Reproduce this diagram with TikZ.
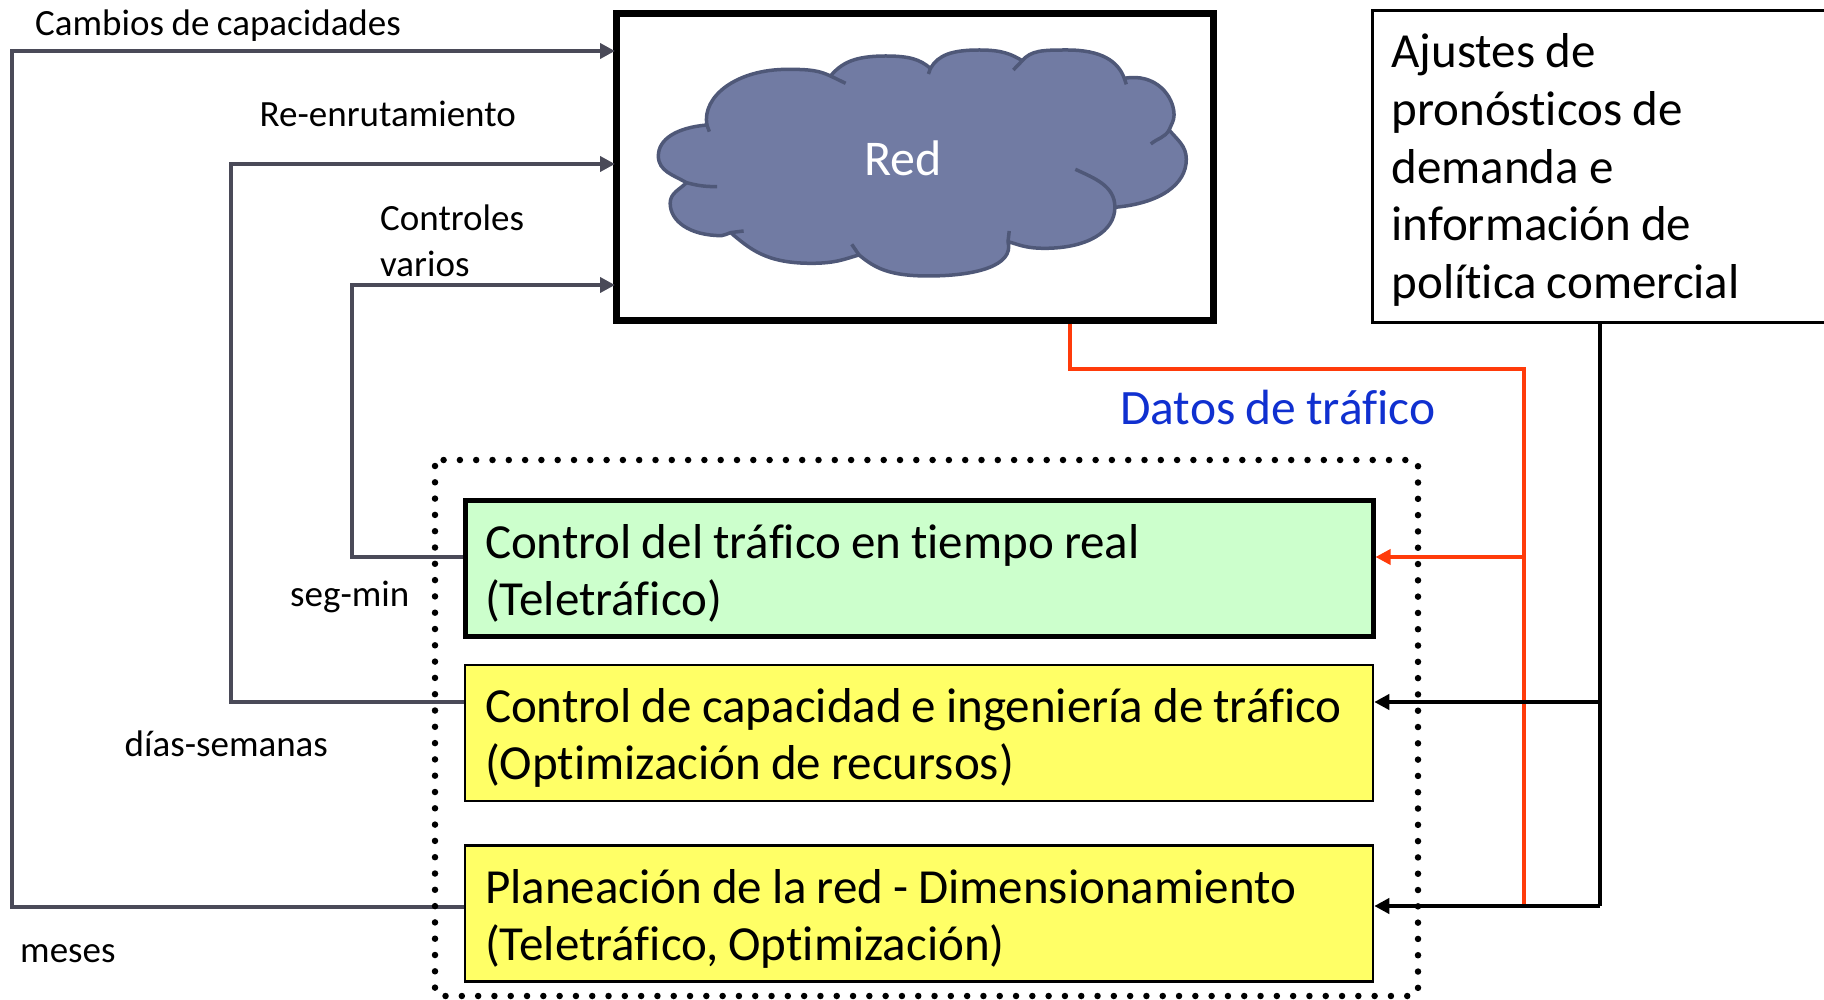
\documentclass[tikz,border=0pt]{standalone}
\usepackage{fontspec}
\setmainfont[Ligatures=NoCommon, WordSpace=0.9]{Carlito}
\usetikzlibrary{arrows.meta, positioning}
\definecolor{cloudfill}{HTML}{717BA3}
\definecolor{cloudline}{HTML}{4F5878}
\definecolor{flowgray}{HTML}{4A4A58}
\definecolor{datared}{HTML}{FF3B0A}
\definecolor{datablue}{HTML}{1030D0}
\definecolor{rtgreen}{HTML}{CCFFCC}
\definecolor{capyellow}{HTML}{FFFF66}

\begin{document}
\begin{tikzpicture}[x=1pt, y=-1pt, node distance=24.7pt, >={Triangle[length=15pt,width=15pt]},
  levelbox/.style={draw=black, line width=2.5pt, fill=capyellow, minimum height=136pt,
    inner xsep=20pt, text width=868pt, align=flush left, text height=44pt, font=\fontsize{49}{57}\selectfont},
  smalltxt/.style={anchor=base west, inner sep=0pt, font=\fontsize{37}{46}\selectfont, align=flush left},
  flow/.style={draw=flowgray, line width=4pt, shorten >=-2pt},
  datos/.style={draw=datared, line width=3.5pt},
  ajuste/.style={draw=black, line width=4pt},
  upl/.style={out looseness=0.75, in looseness=1.35},
  dnl/.style={out looseness=1.35, in looseness=0.75}]
  \useasboundingbox (0,0) rectangle (1824,1000);

  % Nodes
  \node[draw=black, line width=7pt, minimum width=597pt, minimum height=307pt] (red) at (915,167) {};
  \node[levelbox, line width=5pt, fill=rtgreen] (tiempo) at (919,568.5)
    {Control del tráfico en tiempo real\\(Teletráfico)};
  \node[levelbox] (capacidad) [below=of tiempo]
    {Control de capacidad e ingeniería de tráfico\\(Optimización de recursos)};
  \node[levelbox] (planea) [below=42pt of capacidad]
    {Planeación de la red - Dimensionamiento\\(Teletráfico, Optimización)};
  \node[draw=black, line width=3pt, anchor=north west, inner xsep=19pt, text width=442pt,
    minimum height=312pt, align=flush left, text height=41pt, font=\fontsize{49}{57.6}\selectfont] (pronos) at (1371,9)
    {Ajustes de\\pronósticos de\\demanda e\\información de\\política comercial};

  % Cloud
  \begin{scope}[shift={(600,0)}, x=0.408pt, y=-0.3333pt, line width=3.5pt, draw=cloudline, line join=round]
    \draw[fill=cloudfill] (262,375) to[upl,out=100,in=180] (460,208) to[dnl,out=0,in=155] (565,228)
      to[upl,out=50,in=180] (700,168) to[dnl,out=0,in=140] (810,205)
      to[upl,out=60,in=180] (930,150) to[dnl,out=0,in=150] (1035,182)
      to[upl,out=50,in=180] (1145,150) to[dnl,out=0,in=110] (1285,235)
      to[dnl,out=10,in=90] (1407,345) to[out=270,in=70] (1395,390)
      to[out=-50,in=90] (1437,478) to[upl,out=270,in=5] (1262,622)
      to[upl,out=270,in=0] (1090,745) to[dnl,out=180,in=-15] (1000,725)
      to[upl,out=-75,in=0] (805,828) to[dnl,out=180,in=-40] (635,765)
      to[upl,out=-165,in=0] (518,790) to[dnl,out=180,in=-40] (320,698)
      to[out=-170,in=0] (298,707) to[dnl,out=180,in=-90] (172,610) to[out=90,in=225] (212,548)
      to[out=150,in=-90] (143,468) to[upl,out=90,in=185] (262,375) -- cycle;
    \draw (262,375) -- (268,395);
    \draw (565,228) -- (602,250);
    \draw (810,205) -- (805,222);
    \draw (1035,182) -- (1013,210);
    \draw (1285,235) -- (1290,253);
    \draw (1395,390) to[out=-120,in=40] (1350,432);
    \draw (1262,622) to[out=90,in=-25] (1165,508);
    \draw (1000,725) -- (1003,693);
    \draw (635,765) -- (617,733);
    \draw (320,698) -- (352,693);
    \draw (212,548) to[out=-15,in=180] (287,560);
  \end{scope}
  \node[text=white, inner sep=0pt, anchor=base, font=\fontsize{50}{50}\selectfont] (nube) at (903,176) {Red};

  % Corners
  \coordinate (c1) at (11.5,51);
  \coordinate (c2) at (230.5,164);
  \coordinate (c3) at (351.5,285);
  \coordinate (d1) at (1070,369);
  \coordinate (d2) at (1524,369);
  \coordinate (d3) at (1524,905);
  \coordinate (d4) at (1524,557);
  \coordinate (a1) at (1599.5,906);
  \coordinate (a2) at (1599.5,702);

  % Connectors
  \draw[flow, ->] ([yshift=6.5pt]planea.west) -| (c1) -- (c1 -| red.west);
  \draw[flow, ->] ([yshift=30.5pt]capacidad.west) -| (c2) -- (c2 -| red.west);
  \draw[flow, ->] ([yshift=11.5pt]tiempo.west) -| (c3) -- (c3 -| red.west);
  \draw[datos] (d1 |- red.south) -- (d1) -- (d2) -- (d3);
  \draw[datos, ->] (d4) -- (d4 -| tiempo.east);
  \draw[ajuste] (a1 |- pronos.south) -- (a1);
  \draw[ajuste, ->] (a1) -- (a1 -| planea.east);
  \draw[ajuste, ->] (a2) -- (a2 -| capacidad.east);

  % Dotted frame
  \draw[line width=6.5pt, line cap=round, dash pattern=on 0pt off 16.3pt, rounded corners=6pt]
    (435,460) rectangle (1418,996);

  % Labels
  \node[smalltxt] (cambios) at (35,36) {Cambios de capacidades};
  \node[smalltxt] (reenruta) at (259.5,126.5) {Re-enrutamiento};
  \node[smalltxt] (controles) at (380,230.5) {Controles};
  \node[smalltxt] (varios) at (380,276.5) {varios};
  \node[smalltxt] (segmin) at (290,606.5) {seg-min};
  \node[smalltxt] (dias) at (124.5,756.5) {días-semanas};
  \node[smalltxt] (meses) at (20,962.5) {meses};
  \node[anchor=base west, inner sep=0pt, text=datablue, font=\fontsize{49.5}{50}\selectfont] (datostxt) at (1120,424) {Datos de tráfico};
\end{tikzpicture}
\end{document}
